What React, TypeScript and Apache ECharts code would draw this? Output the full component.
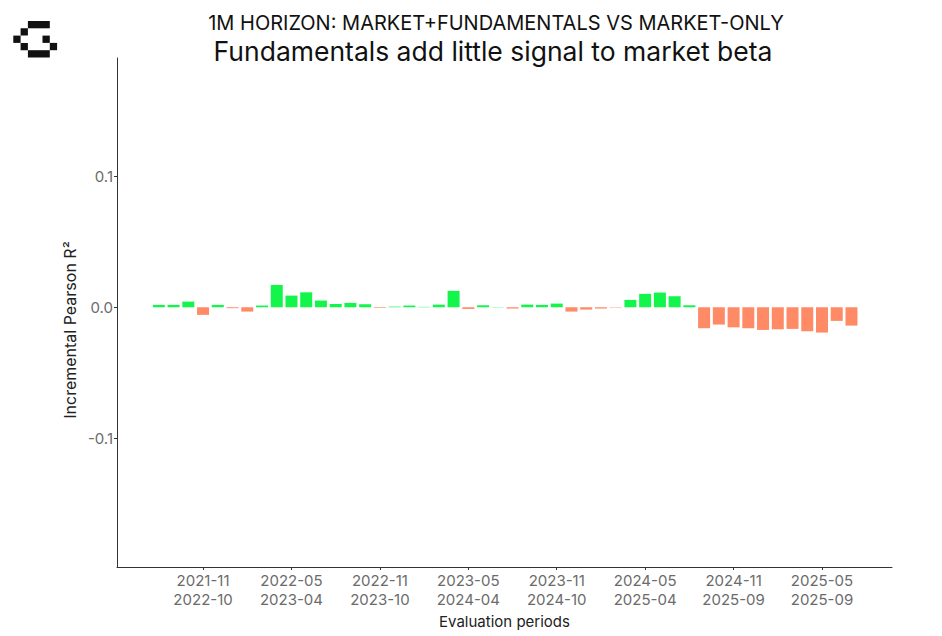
import React, { useEffect, useRef } from "react";
import * as echarts from "echarts";

// Incremental Pearson R² per evaluation period (48 rolling periods)
const values: number[] = [
  0.0018, 0.0018, 0.0043, -0.0058, 0.0018, -0.0007, -0.0033, 0.0013,
  0.017, 0.0089, 0.0114, 0.0051, 0.0025, 0.0033, 0.0023, -0.0005,
  0.0005, 0.0013, 0.0003, 0.002, 0.0125, -0.0013, 0.0015, 0.0002,
  -0.001, 0.002, 0.0018, 0.0028, -0.0033, -0.0018, -0.001, -0.0003,
  0.0056, 0.0102, 0.0112, 0.0084, 0.0015, -0.016, -0.0132, -0.0153,
  -0.016, -0.0173, -0.0168, -0.0165, -0.0183, -0.0193, -0.0104, -0.014,
];

// Labelled periods (index into values) and their start / end months
const tickIndex: number[] = [3, 9, 15, 21, 27, 33, 39, 45];
const tickStart: string[] = ["2021-11", "2022-05", "2022-11", "2023-05", "2023-11", "2024-05", "2024-11", "2025-05"];
const tickEnd: string[] = ["2022-10", "2023-04", "2023-10", "2024-04", "2024-10", "2025-04", "2025-09", "2025-09"];

const yTicks: number[] = [-0.1, 0, 0.1];

const TITLE = "1M HORIZON: MARKET+FUNDAMENTALS VS MARKET-ONLY";
const SUBTITLE = "Fundamentals add little signal to market beta";
const Y_NAME = "Incremental Pearson R²";
const X_NAME = "Evaluation periods";

const POS = "#14F54C";
const NEG = "#FF8B66";
const FONT = "Inter, 'Noto Sans', sans-serif";

// logo pixel blocks: [col, row, widthInBlocks]
const logoBlocks: number[][] = [
  [2, 0, 3], [1, 1, 1], [0, 2, 1], [4, 2, 1], [1, 3, 1], [5, 3, 1], [2, 4, 3],
];

export default function App() {
  const ref = useRef<HTMLDivElement>(null);
  useEffect(() => {
    if (!ref.current) return;
    const chart = echarts.init(ref.current, undefined, { renderer: "svg" });
    const B = 7.3;
    const logo = logoBlocks.map(([c, r, w]) => ({
      type: "rect",
      shape: { x: 13.3 + c * B, y: 21 + r * B, width: w * B, height: B },
      style: { fill: "#111" },
    }));
    chart.setOption({
      animation: false,
      backgroundColor: "#fff",
      graphic: [
        ...logo,
        {
          type: "text",
          x: 496,
          y: 23,
          style: { text: TITLE, font: `20px ${FONT}`, fill: "#111", align: "center", verticalAlign: "middle" },
        },
        {
          type: "text",
          x: 493,
          y: 51,
          style: { text: SUBTITLE, font: `26.5px ${FONT}`, fill: "#111", align: "center", verticalAlign: "middle" },
        },
        {
          type: "text",
          x: 70,
          y: 330,
          rotation: Math.PI / 2,
          style: { text: Y_NAME, font: `16px ${FONT}`, fill: "#222", align: "center", verticalAlign: "middle" },
        },
      ],
      grid: { left: 117, top: 58, right: 50, bottom: 69 },
      xAxis: {
        type: "value",
        min: -2.84,
        max: 49.75,
        splitLine: { show: false },
        axisLine: { show: true, onZero: false, lineStyle: { color: "#333", width: 1 } },
        axisTick: { show: true, customValues: tickIndex, length: 3, lineStyle: { color: "#333" } },
        axisLabel: {
          customValues: tickIndex,
          formatter: (v: number) => {
            const i = tickIndex.indexOf(Math.round(v));
            return i >= 0 ? `${tickStart[i]}\n${tickEnd[i]}` : "";
          },
          color: "#6b6b6b",
          fontFamily: FONT,
          fontSize: 15,
          lineHeight: 19,
          margin: 4,
        },
        name: X_NAME,
        nameLocation: "middle",
        nameGap: 47,
        nameTextStyle: { color: "#222", fontFamily: FONT, fontSize: 15 },
      },
      yAxis: {
        type: "value",
        min: -0.198,
        max: 0.19,
        splitLine: { show: false },
        axisLine: { show: true, onZero: false, lineStyle: { color: "#333", width: 1 } },
        axisTick: { show: true, customValues: yTicks, length: 3, lineStyle: { color: "#333" } },
        axisLabel: {
          customValues: yTicks,
          formatter: (v: number) => v.toFixed(1),
          color: "#6b6b6b",
          fontFamily: FONT,
          fontSize: 15,
          margin: 4,
        },
      },
      series: [
        {
          type: "bar",
          data: values.map((v, i) => [i, v]),
          barWidth: 12,
          itemStyle: { color: (p: any) => (p.value[1] >= 0 ? POS : NEG) },
        },
      ],
    });
    return () => chart.dispose();
  }, []);
  return <div ref={ref} style={{ position: "absolute", left: 0, top: 0, width: 942, height: 636 }} />;
}
